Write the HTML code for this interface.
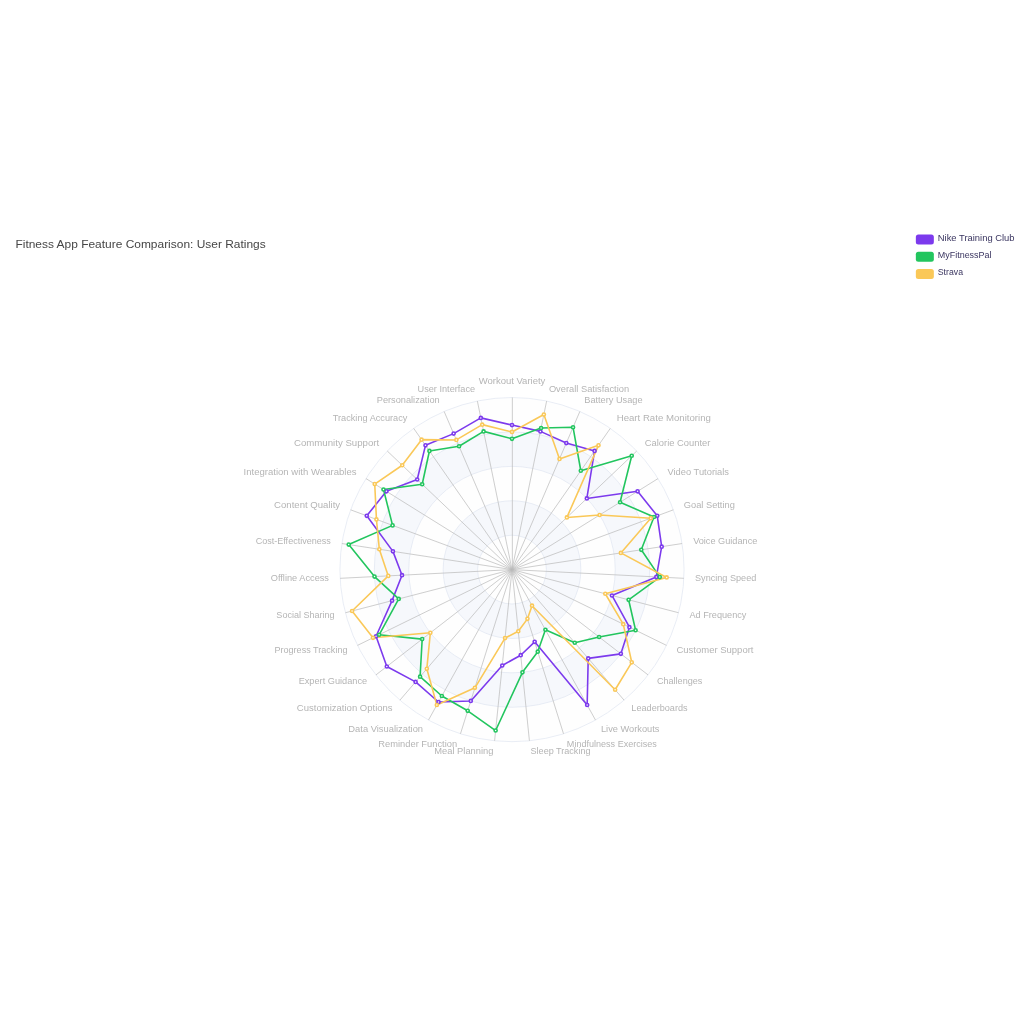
<!DOCTYPE html>
<html lang="en"><head><meta charset="utf-8"><title>Fitness App Feature Comparison: User Ratings</title>
<style>html,body{margin:0;padding:0;background:#fff}body{width:1024px;height:1024px;overflow:hidden;position:relative}svg{position:absolute;left:0;top:224px;display:block}text{font-family:"Liberation Sans",sans-serif}</style></head><body>
<svg width="1024" height="576" viewBox="0 0 1422.22 800">
<g>
<path d="M663.31 480A47.8 47.8 0 1 0 758.91 480A47.8 47.8 0 1 0 663.31 480Z" fill="rgba(250,250,250,0.2)" fill-rule="evenodd"/>
<path d="M615.51 480A95.6 95.6 0 1 0 806.71 480A95.6 95.6 0 1 0 615.51 480ZM663.31 480A47.8 47.8 0 1 1 758.91 480A47.8 47.8 0 1 1 663.31 480Z" fill="rgba(210,219,238,0.2)" fill-rule="evenodd"/>
<path d="M567.71 480A143.4 143.4 0 1 0 854.51 480A143.4 143.4 0 1 0 567.71 480ZM615.51 480A95.6 95.6 0 1 1 806.71 480A95.6 95.6 0 1 1 615.51 480Z" fill="rgba(250,250,250,0.2)" fill-rule="evenodd"/>
<path d="M519.91 480A191.2 191.2 0 1 0 902.31 480A191.2 191.2 0 1 0 519.91 480ZM567.71 480A143.4 143.4 0 1 1 854.51 480A143.4 143.4 0 1 1 567.71 480Z" fill="rgba(210,219,238,0.2)" fill-rule="evenodd"/>
<path d="M472.11 480A239 239 0 1 0 950.11 480A239 239 0 1 0 472.11 480ZM519.91 480A191.2 191.2 0 1 1 902.31 480A191.2 191.2 0 1 1 519.91 480Z" fill="rgba(250,250,250,0.2)" fill-rule="evenodd"/>
<circle cx="711.11" cy="480" r="47.8" fill="none" stroke="#e0e6f1" stroke-width="1"/>
<circle cx="711.11" cy="480" r="95.6" fill="none" stroke="#e0e6f1" stroke-width="1"/>
<circle cx="711.11" cy="480" r="143.4" fill="none" stroke="#e0e6f1" stroke-width="1"/>
<circle cx="711.11" cy="480" r="191.2" fill="none" stroke="#e0e6f1" stroke-width="1"/>
<circle cx="711.11" cy="480" r="239" fill="none" stroke="#e0e6f1" stroke-width="1"/>
<line x1="711.6" y1="480" x2="711.6" y2="241" stroke="#bbb" stroke-width="1"/>
<line x1="711.11" y1="480" x2="663" y2="245.89" stroke="#bbb" stroke-width="1"/>
<line x1="711.11" y1="480" x2="616.86" y2="260.37" stroke="#bbb" stroke-width="1"/>
<line x1="711.11" y1="480" x2="574.58" y2="283.84" stroke="#bbb" stroke-width="1"/>
<line x1="711.11" y1="480" x2="537.89" y2="315.34" stroke="#bbb" stroke-width="1"/>
<line x1="711.11" y1="480" x2="508.29" y2="353.58" stroke="#bbb" stroke-width="1"/>
<line x1="711.11" y1="480" x2="486.99" y2="396.99" stroke="#bbb" stroke-width="1"/>
<line x1="711.11" y1="480" x2="474.87" y2="443.81" stroke="#bbb" stroke-width="1"/>
<line x1="711.11" y1="480" x2="472.42" y2="492.11" stroke="#bbb" stroke-width="1"/>
<line x1="711.11" y1="480" x2="479.74" y2="539.91" stroke="#bbb" stroke-width="1"/>
<line x1="711.11" y1="480" x2="496.54" y2="585.25" stroke="#bbb" stroke-width="1"/>
<line x1="711.11" y1="480" x2="522.12" y2="626.29" stroke="#bbb" stroke-width="1"/>
<line x1="711.11" y1="480" x2="555.43" y2="661.34" stroke="#bbb" stroke-width="1"/>
<line x1="711.11" y1="480" x2="595.12" y2="688.97" stroke="#bbb" stroke-width="1"/>
<line x1="711.11" y1="480" x2="639.56" y2="708.04" stroke="#bbb" stroke-width="1"/>
<line x1="711.11" y1="480" x2="686.93" y2="717.77" stroke="#bbb" stroke-width="1"/>
<line x1="711.11" y1="480" x2="735.29" y2="717.77" stroke="#bbb" stroke-width="1"/>
<line x1="711.11" y1="480" x2="782.66" y2="708.04" stroke="#bbb" stroke-width="1"/>
<line x1="711.11" y1="480" x2="827.1" y2="688.97" stroke="#bbb" stroke-width="1"/>
<line x1="711.11" y1="480" x2="866.79" y2="661.34" stroke="#bbb" stroke-width="1"/>
<line x1="711.11" y1="480" x2="900.11" y2="626.29" stroke="#bbb" stroke-width="1"/>
<line x1="711.11" y1="480" x2="925.69" y2="585.25" stroke="#bbb" stroke-width="1"/>
<line x1="711.11" y1="480" x2="942.48" y2="539.91" stroke="#bbb" stroke-width="1"/>
<line x1="711.11" y1="480" x2="949.8" y2="492.11" stroke="#bbb" stroke-width="1"/>
<line x1="711.11" y1="480" x2="947.36" y2="443.81" stroke="#bbb" stroke-width="1"/>
<line x1="711.11" y1="480" x2="935.23" y2="396.99" stroke="#bbb" stroke-width="1"/>
<line x1="711.11" y1="480" x2="913.94" y2="353.58" stroke="#bbb" stroke-width="1"/>
<line x1="711.11" y1="480" x2="884.34" y2="315.34" stroke="#bbb" stroke-width="1"/>
<line x1="711.11" y1="480" x2="847.64" y2="283.84" stroke="#bbb" stroke-width="1"/>
<line x1="711.11" y1="480" x2="805.36" y2="260.37" stroke="#bbb" stroke-width="1"/>
<line x1="711.11" y1="480" x2="759.22" y2="245.89" stroke="#bbb" stroke-width="1"/>
</g>
<g fill="#b5b5b5" font-size="12">
<text x="711.11" y="222.84" text-anchor="middle" textLength="92.7" lengthAdjust="spacingAndGlyphs">Workout Variety</text>
<text x="659.88" y="233.81" text-anchor="end" textLength="79.9" lengthAdjust="spacingAndGlyphs">User Interface</text>
<text x="610.75" y="249.23" text-anchor="end" textLength="87.5" lengthAdjust="spacingAndGlyphs">Personalization</text>
<text x="565.72" y="274.22" text-anchor="end" textLength="103.5" lengthAdjust="spacingAndGlyphs">Tracking Accuracy</text>
<text x="526.65" y="307.76" text-anchor="end" textLength="118.4" lengthAdjust="spacingAndGlyphs">Community Support</text>
<text x="495.13" y="348.48" text-anchor="end" textLength="156.9" lengthAdjust="spacingAndGlyphs">Integration with Wearables</text>
<text x="472.45" y="394.71" text-anchor="end" textLength="91.7" lengthAdjust="spacingAndGlyphs">Content Quality</text>
<text x="459.55" y="444.56" text-anchor="end" textLength="104.5" lengthAdjust="spacingAndGlyphs">Cost-Effectiveness</text>
<text x="456.94" y="495.99" text-anchor="end" textLength="80.9" lengthAdjust="spacingAndGlyphs">Offline Access</text>
<text x="464.74" y="546.89" text-anchor="end" textLength="80.9" lengthAdjust="spacingAndGlyphs">Social Sharing</text>
<text x="482.62" y="595.18" text-anchor="end" textLength="101.4" lengthAdjust="spacingAndGlyphs">Progress Tracking</text>
<text x="509.86" y="638.88" text-anchor="end" textLength="95.1" lengthAdjust="spacingAndGlyphs">Expert Guidance</text>
<text x="545.34" y="676.2" text-anchor="end" textLength="133" lengthAdjust="spacingAndGlyphs">Customization Options</text>
<text x="587.6" y="705.62" text-anchor="end" textLength="103.8" lengthAdjust="spacingAndGlyphs">Data Visualization</text>
<text x="634.92" y="725.93" text-anchor="end" textLength="109.4" lengthAdjust="spacingAndGlyphs">Reminder Function</text>
<text x="685.36" y="736.29" text-anchor="end" textLength="82.3" lengthAdjust="spacingAndGlyphs">Meal Planning</text>
<text x="736.86" y="736.29" text-anchor="start" textLength="83.3" lengthAdjust="spacingAndGlyphs">Sleep Tracking</text>
<text x="787.3" y="725.93" text-anchor="start" textLength="125" lengthAdjust="spacingAndGlyphs">Mindfulness Exercises</text>
<text x="834.62" y="705.62" text-anchor="start" textLength="81.25" lengthAdjust="spacingAndGlyphs">Live Workouts</text>
<text x="876.89" y="676.2" text-anchor="start" textLength="78.1" lengthAdjust="spacingAndGlyphs">Leaderboards</text>
<text x="912.36" y="638.88" text-anchor="start" textLength="63.2" lengthAdjust="spacingAndGlyphs">Challenges</text>
<text x="939.6" y="595.18" text-anchor="start" textLength="106.9" lengthAdjust="spacingAndGlyphs">Customer Support</text>
<text x="957.49" y="546.89" text-anchor="start" textLength="79.2" lengthAdjust="spacingAndGlyphs">Ad Frequency</text>
<text x="965.28" y="495.99" text-anchor="start" textLength="85.1" lengthAdjust="spacingAndGlyphs">Syncing Speed</text>
<text x="962.68" y="444.56" text-anchor="start" textLength="89.2" lengthAdjust="spacingAndGlyphs">Voice Guidance</text>
<text x="949.77" y="394.71" text-anchor="start" textLength="70.8" lengthAdjust="spacingAndGlyphs">Goal Setting</text>
<text x="927.09" y="348.48" text-anchor="start" textLength="85.4" lengthAdjust="spacingAndGlyphs">Video Tutorials</text>
<text x="895.57" y="307.76" text-anchor="start" textLength="91" lengthAdjust="spacingAndGlyphs">Calorie Counter</text>
<text x="856.5" y="274.22" text-anchor="start" textLength="130.9" lengthAdjust="spacingAndGlyphs">Heart Rate Monitoring</text>
<text x="811.47" y="249.23" text-anchor="start" textLength="80.9" lengthAdjust="spacingAndGlyphs">Battery Usage</text>
<text x="762.34" y="233.81" text-anchor="start" textLength="111.5" lengthAdjust="spacingAndGlyphs">Overall Satisfaction</text>
</g>
<g fill="none" stroke-width="2.2" stroke-linejoin="bevel">
<polygon stroke="#7c3aed" points="711.11,279.24 667.81,269.3 630.06,291.12 590.96,307.38 579.46,354.86 536.68,371.28 509.4,405.29 545.74,454.67 558.35,487.75 544.52,523.13 522.28,572.62 537.24,614.59 577.23,635.96 609.04,663.89 653.87,662.43 697.57,613.15 723.2,598.89 742.59,580.34 815.5,668.07 816.97,603.31 862.31,597.03 874.19,559.99 849.93,515.94 911.61,490.17 919.01,448.15 912.82,405.29 885.54,371.28 815.05,381.2 825.8,315.22 786.51,304.3 750.56,288.03"/>
<polygon stroke="#22c55e" points="711.11,298.36 671.66,288.03 637.6,308.69 596.42,315.22 586.39,361.44 532.62,368.75 545.26,418.58 484.32,445.26 520.16,489.68 553.78,520.74 526.58,570.52 586.37,576.55 583.46,628.7 613.68,655.53 649.58,676.11 688.38,703.51 725.62,622.66 746.89,594.02 757.51,563.59 798.29,581.55 832.07,573.63 882.77,564.2 873.07,521.93 916.39,490.41 890.66,452.49 908.34,406.95 861.2,386.45 877.41,321.92 806.68,342.69 795.94,282.33 751.52,283.35"/>
<polygon stroke="#fac858" points="711.11,288.8 669.74,278.67 633.83,299.9 585.5,299.53 558.67,335.1 520.45,361.16 522.85,410.27 526.84,451.77 539.25,488.72 489,537.51 517.99,574.73 597.71,567.78 592.8,617.82 606.72,668.07 659.6,644.19 701.44,575.11 719.82,565.6 732.58,548.41 738.95,530.15 854.33,646.84 877.43,608.74 865.61,555.78 840.68,513.55 925.94,490.89 862.31,456.84 903.86,408.61 832.81,404.15 787.33,407.55 831.26,307.38 777.09,326.26 755.37,264.62"/>
</g>
<g fill="#fff" stroke-width="2.2">
<g stroke="#7c3aed"><circle cx="711.11" cy="279.24" r="2.15"/><circle cx="667.81" cy="269.3" r="2.15"/><circle cx="630.06" cy="291.12" r="2.15"/><circle cx="590.96" cy="307.38" r="2.15"/><circle cx="579.46" cy="354.86" r="2.15"/><circle cx="536.68" cy="371.28" r="2.15"/><circle cx="509.4" cy="405.29" r="2.15"/><circle cx="545.74" cy="454.67" r="2.15"/><circle cx="558.35" cy="487.75" r="2.15"/><circle cx="544.52" cy="523.13" r="2.15"/><circle cx="522.28" cy="572.62" r="2.15"/><circle cx="537.24" cy="614.59" r="2.15"/><circle cx="577.23" cy="635.96" r="2.15"/><circle cx="609.04" cy="663.89" r="2.15"/><circle cx="653.87" cy="662.43" r="2.15"/><circle cx="697.57" cy="613.15" r="2.15"/><circle cx="723.2" cy="598.89" r="2.15"/><circle cx="742.59" cy="580.34" r="2.15"/><circle cx="815.5" cy="668.07" r="2.15"/><circle cx="816.97" cy="603.31" r="2.15"/><circle cx="862.31" cy="597.03" r="2.15"/><circle cx="874.19" cy="559.99" r="2.15"/><circle cx="849.93" cy="515.94" r="2.15"/><circle cx="911.61" cy="490.17" r="2.15"/><circle cx="919.01" cy="448.15" r="2.15"/><circle cx="912.82" cy="405.29" r="2.15"/><circle cx="885.54" cy="371.28" r="2.15"/><circle cx="815.05" cy="381.2" r="2.15"/><circle cx="825.8" cy="315.22" r="2.15"/><circle cx="786.51" cy="304.3" r="2.15"/><circle cx="750.56" cy="288.03" r="2.15"/></g>
<g stroke="#22c55e"><circle cx="711.11" cy="298.36" r="2.15"/><circle cx="671.66" cy="288.03" r="2.15"/><circle cx="637.6" cy="308.69" r="2.15"/><circle cx="596.42" cy="315.22" r="2.15"/><circle cx="586.39" cy="361.44" r="2.15"/><circle cx="532.62" cy="368.75" r="2.15"/><circle cx="545.26" cy="418.58" r="2.15"/><circle cx="484.32" cy="445.26" r="2.15"/><circle cx="520.16" cy="489.68" r="2.15"/><circle cx="553.78" cy="520.74" r="2.15"/><circle cx="526.58" cy="570.52" r="2.15"/><circle cx="586.37" cy="576.55" r="2.15"/><circle cx="583.46" cy="628.7" r="2.15"/><circle cx="613.68" cy="655.53" r="2.15"/><circle cx="649.58" cy="676.11" r="2.15"/><circle cx="688.38" cy="703.51" r="2.15"/><circle cx="725.62" cy="622.66" r="2.15"/><circle cx="746.89" cy="594.02" r="2.15"/><circle cx="757.51" cy="563.59" r="2.15"/><circle cx="798.29" cy="581.55" r="2.15"/><circle cx="832.07" cy="573.63" r="2.15"/><circle cx="882.77" cy="564.2" r="2.15"/><circle cx="873.07" cy="521.93" r="2.15"/><circle cx="916.39" cy="490.41" r="2.15"/><circle cx="890.66" cy="452.49" r="2.15"/><circle cx="908.34" cy="406.95" r="2.15"/><circle cx="861.2" cy="386.45" r="2.15"/><circle cx="877.41" cy="321.92" r="2.15"/><circle cx="806.68" cy="342.69" r="2.15"/><circle cx="795.94" cy="282.33" r="2.15"/><circle cx="751.52" cy="283.35" r="2.15"/></g>
<g stroke="#fac858"><circle cx="711.11" cy="288.8" r="2.15"/><circle cx="669.74" cy="278.67" r="2.15"/><circle cx="633.83" cy="299.9" r="2.15"/><circle cx="585.5" cy="299.53" r="2.15"/><circle cx="558.67" cy="335.1" r="2.15"/><circle cx="520.45" cy="361.16" r="2.15"/><circle cx="522.85" cy="410.27" r="2.15"/><circle cx="526.84" cy="451.77" r="2.15"/><circle cx="539.25" cy="488.72" r="2.15"/><circle cx="489" cy="537.51" r="2.15"/><circle cx="517.99" cy="574.73" r="2.15"/><circle cx="597.71" cy="567.78" r="2.15"/><circle cx="592.8" cy="617.82" r="2.15"/><circle cx="606.72" cy="668.07" r="2.15"/><circle cx="659.6" cy="644.19" r="2.15"/><circle cx="701.44" cy="575.11" r="2.15"/><circle cx="719.82" cy="565.6" r="2.15"/><circle cx="732.58" cy="548.41" r="2.15"/><circle cx="738.95" cy="530.15" r="2.15"/><circle cx="854.33" cy="646.84" r="2.15"/><circle cx="877.43" cy="608.74" r="2.15"/><circle cx="865.61" cy="555.78" r="2.15"/><circle cx="840.68" cy="513.55" r="2.15"/><circle cx="925.94" cy="490.89" r="2.15"/><circle cx="862.31" cy="456.84" r="2.15"/><circle cx="903.86" cy="408.61" r="2.15"/><circle cx="832.81" cy="404.15" r="2.15"/><circle cx="787.33" cy="407.55" r="2.15"/><circle cx="831.26" cy="307.38" r="2.15"/><circle cx="777.09" cy="326.26" r="2.15"/><circle cx="755.37" cy="264.62" r="2.15"/></g>
</g>
<text x="21.5" y="33.5" font-size="16" fill="#464646" textLength="347.5" lengthAdjust="spacingAndGlyphs">Fitness App Feature Comparison: User Ratings</text>
<g font-size="12" fill="#3a3560">
<rect x="1272" y="14.5" width="25" height="14" rx="3.5" ry="3.5" fill="#7c3aed"/>
<text x="1302.5" y="23.48" textLength="106.6" lengthAdjust="spacingAndGlyphs">Nike Training Club</text>
<rect x="1272" y="38.5" width="25" height="14" rx="3.5" ry="3.5" fill="#22c55e"/>
<text x="1302.5" y="47.48" textLength="74.6" lengthAdjust="spacingAndGlyphs">MyFitnessPal</text>
<rect x="1272" y="62.5" width="25" height="14" rx="3.5" ry="3.5" fill="#fac858"/>
<text x="1302.5" y="71.48" textLength="35" lengthAdjust="spacingAndGlyphs">Strava</text>
</g>
</svg></body></html>
